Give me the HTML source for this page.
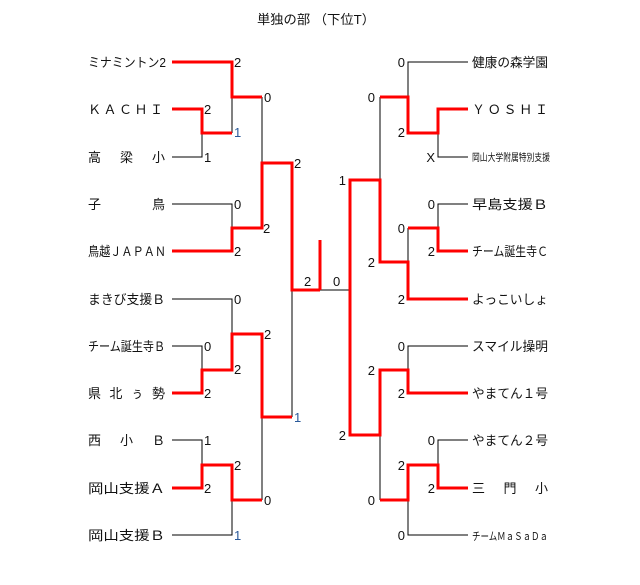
<!DOCTYPE html>
<html><head><meta charset="utf-8"><style>
html,body{margin:0;padding:0;background:#fff;}
svg{display:block;}
text{font-family:"Liberation Sans","Noto Sans CJK JP",sans-serif;fill:#111;}
.n{font-size:13px;}
.s{font-size:13px;}
.b{fill:#2a5a9a;}
</style></head><body>
<svg width="640" height="585" viewBox="0 0 640 585" xmlns="http://www.w3.org/2000/svg">
<text x="257" y="24" font-size="13" textLength="118" lengthAdjust="spacingAndGlyphs">単独の部 （下位T）</text>

<g stroke="#000" stroke-width="1" fill="none">
<!-- left black -->
<path d="M172 157H202V133"/>
<path d="M232 97V133"/>
<path d="M172 204H232V228"/>
<path d="M262 97V163"/>
<path d="M172 299H232V334"/>
<path d="M172 346H202V370"/>
<path d="M172 440H202V465"/>
<path d="M172 535H232V500"/>
<path d="M262 417V500"/>
<path d="M292 290V417"/>
<!-- right black -->
<path d="M468 62H408V97"/>
<path d="M468 157H438V133"/>
<path d="M468 204H438V228"/>
<path d="M408 228V262"/>
<path d="M380 97V180"/>
<path d="M320 290H350"/>
<path d="M468 346H408V370"/>
<path d="M468 440H438V465"/>
<path d="M468 535H408V500"/>
<path d="M380 435V500"/>
</g>

<g stroke="#f00" stroke-width="3" fill="none" stroke-linejoin="miter">
<!-- left red -->
<path d="M172 109H202V133H232"/>
<path d="M172 62H232V97H262"/>
<path d="M172 251H232V228H262V163H292V290H320"/>
<path d="M320 240V290"/>
<path d="M172 393H202V370H232V334H262V417H292"/>
<path d="M172 488H202V465H232V500H262"/>
<!-- right red -->
<path d="M468 109H438V133H408V97H380"/>
<path d="M468 251H438V228H408"/>
<path d="M468 299H408V262H380V180H350V435H380V370H408V393H468"/>
<path d="M468 488H438V465H408V500H380"/>
</g>

<!-- left names -->
<g class="n">
<text x="88" y="67" textLength="78" lengthAdjust="spacingAndGlyphs">ミナミントン2</text>
<text x="88" y="114" textLength="75" lengthAdjust="spacing">ＫＡＣＨＩ</text>
<text x="88" y="162" textLength="77" lengthAdjust="spacing">高　梁　小</text>
<text x="88" y="209" textLength="77" lengthAdjust="spacing">子　　　鳥</text>
<text x="88" y="256" textLength="78" lengthAdjust="spacingAndGlyphs">鳥越ＪＡＰＡＮ</text>
<text x="88" y="304" textLength="77" lengthAdjust="spacingAndGlyphs">まきび支援Ｂ</text>
<text x="88" y="351" textLength="77" lengthAdjust="spacingAndGlyphs">チーム誕生寺Ｂ</text>
<text x="88" y="398" textLength="77" lengthAdjust="spacing">県 北 ぅ 勢</text>
<text x="88" y="445" textLength="77" lengthAdjust="spacing">西　小　Ｂ</text>
<text x="88" y="493" textLength="77" lengthAdjust="spacingAndGlyphs">岡山支援Ａ</text>
<text x="88" y="540" textLength="77" lengthAdjust="spacingAndGlyphs">岡山支援Ｂ</text>
</g>
<!-- right names -->
<g class="n">
<text x="472" y="67" textLength="76" lengthAdjust="spacingAndGlyphs">健康の森学園</text>
<text x="472" y="114" textLength="76" lengthAdjust="spacing">ＹＯＳＨＩ</text>
<text x="472" y="161" font-size="10" textLength="78" lengthAdjust="spacingAndGlyphs">岡山大学附属特別支援</text>
<text x="472" y="209" textLength="76" lengthAdjust="spacingAndGlyphs">早島支援Ｂ</text>
<text x="472" y="256" textLength="76" lengthAdjust="spacingAndGlyphs">チーム誕生寺Ｃ</text>
<text x="472" y="304" textLength="76" lengthAdjust="spacingAndGlyphs">よっこいしょ</text>
<text x="472" y="351" textLength="76" lengthAdjust="spacingAndGlyphs">スマイル操明</text>
<text x="472" y="398" textLength="76" lengthAdjust="spacingAndGlyphs">やまてん１号</text>
<text x="472" y="445" textLength="76" lengthAdjust="spacingAndGlyphs">やまてん２号</text>
<text x="472" y="493" textLength="76" lengthAdjust="spacing">三　門　小</text>
<text x="472" y="540" font-size="11" textLength="76" lengthAdjust="spacingAndGlyphs">チームＭａＳａＤａ</text>
</g>

<!-- left scores -->
<g class="s">
<text x="234" y="67">2</text>
<text x="204" y="114">2</text>
<text x="234" y="137" class="b">1</text>
<text x="204" y="162">1</text>
<text x="264" y="102">0</text>
<text x="234" y="209">0</text>
<text x="234" y="256">2</text>
<text x="263" y="233">2</text>
<text x="294" y="168">2</text>
<text x="304" y="286">2</text>
<text x="234" y="304">0</text>
<text x="204" y="351">0</text>
<text x="204" y="398">2</text>
<text x="234" y="374">2</text>
<text x="264" y="339">2</text>
<text x="294" y="422" class="b">1</text>
<text x="204" y="445">1</text>
<text x="204" y="493">2</text>
<text x="234" y="470">2</text>
<text x="234" y="540" class="b">1</text>
<text x="264" y="505">0</text>
</g>
<!-- right scores -->
<g class="s" text-anchor="end">
<text x="333" y="286" text-anchor="start">0</text>
<text x="405" y="67">0</text>
<text x="405" y="137">2</text>
<text x="435" y="162">X</text>
<text x="375" y="102">0</text>
<text x="346" y="185">1</text>
<text x="435" y="209">0</text>
<text x="435" y="256">2</text>
<text x="405" y="233">0</text>
<text x="405" y="304">2</text>
<text x="375" y="267">2</text>
<text x="405" y="351">0</text>
<text x="405" y="398">2</text>
<text x="375" y="375">2</text>
<text x="346" y="440">2</text>
<text x="435" y="445">0</text>
<text x="435" y="493">2</text>
<text x="405" y="470">2</text>
<text x="405" y="540">0</text>
<text x="375" y="505">0</text>
</g>
</svg>
</body></html>
